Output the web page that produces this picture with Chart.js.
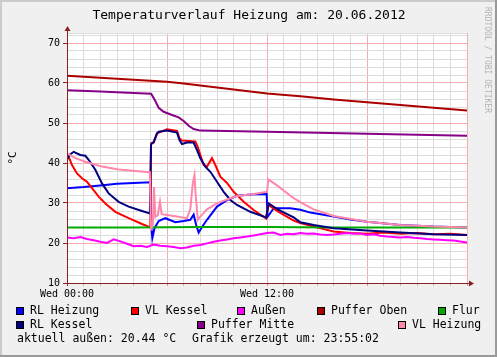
<!DOCTYPE html>
<html>
<head>
<meta charset="utf-8">
<script src="https://cdn.jsdelivr.net/npm/chart.js@4"></script>
<style>
html,body{margin:0;padding:0;background:#f0f0f0;}
canvas{display:block;}
</style>
</head>
<body>
<canvas id="c" width="497" height="357"></canvas>
<script>
// ---- data (hours since Wed 00:00, °C) ----
const seriesLabels = ['RL Heizung','VL Kessel','Außen','Puffer Oben','Flur','RL Kessel','Puffer Mitte','VL Heizung'];

const hoursRLHeizung = [0,1,2,3,4,5.0,5.06,5.12,5.25,5.5,5.9,6.5,7.0,7.4,7.6,7.75,7.9,8.1,8.4,9.0,9.6,10.2,11.2,11.98,12.03,12.4,13.4,14,14.6,16,17,18,20,22,24];
const tempRLHeizung  = [33.7,34.0,34.4,34.8,35.0,35.2,24.0,21.2,23.7,25.5,26.2,25.2,25.5,25.8,27.1,24.5,22.6,24.0,25.8,29.1,30.7,31.8,32.2,32.25,26.5,28.7,28.7,28.3,27.6,26.6,25.9,25.3,24.5,24.1,23.9];

const hoursVLKessel = [0,0.1,0.3,0.6,0.9,1.2,1.5,1.9,2.3,2.9,3.7,4.5,5.0,5.04,5.2,5.4,6.0,6.6,6.75,6.9,7.7,7.85,8.0,8.2,8.4,8.7,8.9,9.2,9.6,10.0,10.6,11.2,11.95,12.08,12.7,13.6,14,14.8,16,17,18,19,20,21,22,23,24];
const tempVLKessel  = [42.5,41.6,39.5,37.4,36.2,35.3,33.7,31.6,29.9,27.8,26.2,24.75,23.9,44.9,45.1,47.4,48.4,48.0,46.2,45.6,45.4,44.0,42.0,39.5,39.1,41.2,39.5,36.6,35.0,32.8,30.3,28.25,26.1,29.5,27.8,25.6,25.0,24.1,22.9,22.5,22.3,22.6,22.3,22.5,22.2,22.3,22.0];

const hoursAussen = [0,0.4,0.8,1.2,1.6,2.0,2.4,2.8,3.2,3.6,4.0,4.4,4.8,5.2,5.6,6.0,6.4,6.8,7.2,7.6,8.0,8.4,8.8,9.2,9.6,10.0,10.4,10.8,11.2,11.6,12.0,12.4,12.8,13.2,13.6,14.0,14.4,14.8,15.2,15.6,16.0,16.4,16.8,17.2,17.6,18.0,18.4,18.8,19.2,19.6,20.0,20.4,20.8,21.2,21.6,22.0,22.4,22.8,23.2,23.6,24.0];
const tempAussen  = [21.4,21.2,21.5,21.0,20.7,20.3,20.0,20.9,20.4,19.8,19.2,19.3,19.0,19.6,19.3,19.2,19.0,18.7,18.9,19.3,19.5,19.9,20.3,20.6,20.9,21.2,21.4,21.6,21.9,22.2,22.5,22.6,22.0,22.3,22.2,22.5,22.3,22.4,22.1,22.0,22.1,22.3,22.5,22.3,22.4,22.0,22.2,21.8,21.6,21.5,21.4,21.5,21.3,21.2,21.0,20.9,20.8,20.7,20.6,20.4,20.1];

const hoursPufferOben = [0,2,4,6,7,8,10,12,14,16,18,20,22,24];
const tempPufferOben  = [61.8,61.3,60.8,60.3,59.9,59.4,58.4,57.4,56.7,55.9,55.2,54.5,53.8,53.1];

const hoursFlur = [0,4,8,12,16,20,24];
const tempFlur  = [23.9,23.9,24.0,24.0,23.9,23.9,23.9];

const hoursRLKessel = [0,0.15,0.4,0.8,1.1,1.3,1.7,2.1,2.5,3.1,3.7,4.5,4.97,5.04,5.1,5.2,5.4,5.5,6.0,6.6,6.75,6.9,7.2,7.6,7.8,8.0,8.3,8.6,9.0,9.4,9.8,10.2,11.0,11.95,12.1,12.7,13.6,14,14.8,16,18,20,22,24];
const tempRLKessel  = [40.8,42.0,42.8,42.0,41.8,40.8,38.3,34.9,32.4,30.3,29.1,28.0,27.4,44.5,45.0,45.2,47.4,47.8,48.1,47.6,45.75,44.75,45.1,45.1,43.25,41.2,39.1,37.8,35.3,32.8,30.75,29.5,27.8,26.4,29.9,28.25,26.4,25.2,24.5,23.7,23.1,22.6,22.2,22.0];

const hoursPufferMitte = [0,2,4,5.05,5.3,5.5,5.8,6.3,6.7,7.0,7.3,7.6,8.0,12,18,24];
const tempPufferMitte  = [58.2,57.9,57.5,57.3,55.5,53.8,52.8,52.0,51.4,50.5,49.3,48.5,48.1,47.8,47.3,46.8];

const hoursVLHeizung = [0,0.5,1.1,2.1,3.1,4.1,4.97,5.04,5.15,5.22,5.3,5.45,5.58,5.68,6.0,6.6,7.2,7.4,7.55,7.65,7.72,7.85,8.0,8.4,9.0,9.8,10.2,11.2,12.0,12.08,12.7,13.6,14,14.8,16,18,20,22,24];
const tempVLHeizung  = [42.4,41.2,40.3,39.1,38.4,38.0,37.7,23.5,24.5,34.0,26.5,27.0,30.3,27.2,27.0,26.6,26.2,28.5,35.0,37.0,32.0,25.8,26.6,28.4,29.9,31.2,31.75,32.25,32.8,35.9,34.1,31.2,30.2,28.4,26.75,25.3,24.5,24.1,23.9];

const seriesHours = [hoursRLHeizung,hoursVLKessel,hoursAussen,hoursPufferOben,hoursFlur,hoursRLKessel,hoursPufferMitte,hoursVLHeizung];
const seriesTemps = [tempRLHeizung,tempVLKessel,tempAussen,tempPufferOben,tempFlur,tempRLKessel,tempPufferMitte,tempVLHeizung];

const xLabelHours = [0,12];
const xLabelTexts = ['Wed 00:00','Wed 12:00'];
const yLabelValues = [10,20,30,40,50,60,70];

const titleText = 'Temperaturverlauf Heizung am: 20.06.2012';
const commentLeft = 'aktuell außen: 20.44 °C';
const commentRight = 'Grafik erzeugt um: 23:55:02';
const sideText = 'RRDTOOL / TOBI OETIKER';

// ---- styles ----
const seriesColors = ['#0000FF','#FF0000','#FF00FF','#AA0000','#00AA00','#000080','#880088','#FF88AA'];
const FONT = '"DejaVu Sans Mono", monospace';
const AXIS = '#882222';
const GRID_MINOR = '#dcdcdc';
const GRID_MAJOR = '#f4b0b0';

Chart.defaults.font.family = FONT;
Chart.defaults.color = '#000';

const datasets = seriesLabels.map((lab,i)=>({
  label: lab,
  data: seriesHours[i].map((h,k)=>({x:h,y:seriesTemps[i][k]})),
  borderColor: seriesColors[i],
  backgroundColor: seriesColors[i],
  borderWidth: 2,
  pointRadius: 0,
  tension: 0,
  fill: false,
  order: seriesLabels.length - i
}));

const rrdPlugin = {
  id: 'rrd',
  beforeDraw(chart){
    const ctx = chart.ctx, W = chart.width, H = chart.height, a = chart.chartArea;
    ctx.save();
    ctx.fillStyle = '#f0f0f0';
    ctx.fillRect(0,0,W,H);
    // frame
    ctx.fillStyle = '#cbcbcb';
    ctx.fillRect(0,0,W,2);
    ctx.fillRect(0,0,2,H);
    ctx.fillStyle = '#999999';
    ctx.fillRect(0,H-2,W,2);
    ctx.fillRect(W-2,0,2,H);
    // canvas
    ctx.fillStyle = '#ffffff';
    ctx.fillRect(a.left, a.top, a.right-a.left+1, a.bottom-a.top);
    ctx.restore();
  },
  afterDraw(chart){
    const ctx = chart.ctx, a = chart.chartArea;
    ctx.save();
    // axes
    const yb = Math.round(a.bottom)+0.5, xl = Math.round(a.left)+0.5;
    ctx.strokeStyle = AXIS; ctx.fillStyle = AXIS; ctx.lineWidth = 1;
    ctx.beginPath();
    ctx.moveTo(a.left-3, yb); ctx.lineTo(a.right+3, yb);
    ctx.moveTo(xl, a.bottom+3); ctx.lineTo(xl, a.top-3);
    ctx.stroke();
    ctx.beginPath();
    ctx.moveTo(a.right+2, yb-3); ctx.lineTo(a.right+7, yb); ctx.lineTo(a.right+2, yb+3); ctx.closePath();
    ctx.fill();
    ctx.beginPath();
    ctx.moveTo(xl-3, a.top-2); ctx.lineTo(xl, a.top-7); ctx.lineTo(xl+3, a.top-2); ctx.closePath();
    ctx.fill();
    // title
    ctx.fillStyle = '#000';
    ctx.font = '13px ' + FONT;
    ctx.textAlign = 'center'; ctx.textBaseline = 'middle';
    ctx.fillText(titleText, 249, 16);
    // side watermark
    ctx.save();
    ctx.translate(487, 7);
    ctx.rotate(Math.PI/2);
    ctx.fillStyle = '#b4b4b4';
    ctx.font = '8px ' + FONT;
    ctx.textAlign = 'left'; ctx.textBaseline = 'middle';
    ctx.fillText(sideText, 0, 0);
    ctx.restore();
    // legend
    const pos = [[16,311],[131,311],[237,311],[317,311],[438,311],[16,325],[197,325],[398,325]];
    ctx.font = '11.5px ' + FONT;
    ctx.textAlign = 'left'; ctx.textBaseline = 'middle';
    chart.data.datasets.forEach((ds,i)=>{
      const [x,y] = pos[i];
      ctx.fillStyle = ds.borderColor;
      ctx.fillRect(x, y-4, 8, 8);
      ctx.strokeStyle = '#000'; ctx.lineWidth = 1;
      ctx.strokeRect(x+0.5, y-3.5, 7, 7);
      ctx.fillStyle = '#000';
      ctx.fillText(ds.label, x+14, y+0.5);
    });
    ctx.fillText(commentLeft, 17, 339.5);
    ctx.fillText(commentRight, 192, 339.5);
    ctx.restore();
  }
};

new Chart(document.getElementById('c'), {
  type: 'line',
  data: { datasets },
  plugins: [rrdPlugin],
  options: {
    responsive: false,
    devicePixelRatio: 1,
    animation: false,
    events: [],
    layout: { padding: { top: 33, right: 30, bottom: 0, left: 0 } },
    plugins: { legend: { display: false }, title: { display: false }, tooltip: { enabled: false } },
    scales: {
      x: {
        type: 'linear', min: 0, max: 24,
        afterFit(s){ s.height = 74; },
        border: { display: false },
        grid: {
          color: c => (c.tick && c.tick.value % 6 === 0) ? GRID_MAJOR : GRID_MINOR,
          tickColor: c => (c.tick && c.tick.value % 6 === 0) ? '#e88' : '#bbb',
          tickLength: 3, lineWidth: 1
        },
        ticks: {
          stepSize: 1, autoSkip: false, maxRotation: 0, padding: 2,
          font: { size: 10, family: FONT }, color: '#000',
          callback: v => { const k = xLabelHours.indexOf(v); return k >= 0 ? xLabelTexts[k] : ''; }
        }
      },
      y: {
        type: 'linear', min: 10, max: 72.5,
        afterFit(s){ s.width = 67; },
        afterBuildTicks(s){
          const t = [];
          for (let v = 10; v <= 72; v += 2) t.push({ value: v });
          t.push({ value: 72.5 });
          s.ticks = t;
        },
        border: { display: false },
        title: { display: true, text: '°C', font: { size: 11, family: FONT }, color: '#000', padding: { top: 7, bottom: 0 } },
        grid: {
          color: c => (c.tick && c.tick.value % 10 === 0) ? GRID_MAJOR : GRID_MINOR,
          tickColor: c => (c.tick && c.tick.value % 10 === 0) ? AXIS : 'rgba(0,0,0,0)',
          tickLength: 4, lineWidth: 1
        },
        ticks: {
          autoSkip: false, padding: 3,
          font: { size: 10, family: FONT }, color: '#000',
          callback: v => yLabelValues.includes(v) ? String(v) : ''
        }
      }
    }
  }
});
</script>
</body>
</html>
